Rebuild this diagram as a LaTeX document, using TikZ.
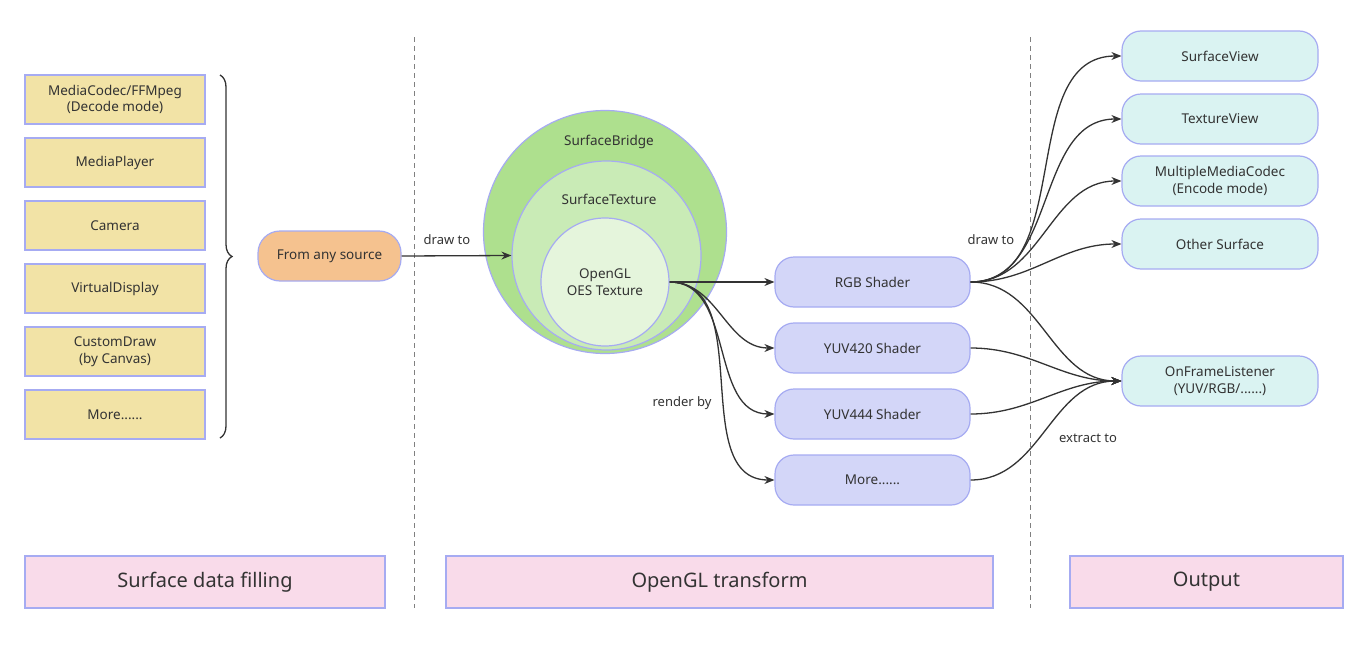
\documentclass[tikz,border=0pt]{standalone}
\usepackage{fontspec}
\setmainfont{Noto Sans}
\usetikzlibrary{arrows.meta,decorations.pathreplacing}
\definecolor{bordercol}{HTML}{A6ABF2}
\definecolor{srcfill}{HTML}{F2E3A6}
\definecolor{orangefill}{HTML}{F5C28F}
\definecolor{shadefill}{HTML}{D3D6F8}
\definecolor{outfill}{HTML}{DAF3F2}
\definecolor{headfill}{HTML}{F9DBEA}
\definecolor{greenA}{HTML}{AEE08E}
\definecolor{greenB}{HTML}{C9EBB6}
\definecolor{greenC}{HTML}{E5F5DC}
\definecolor{inkcol}{HTML}{333333}
\begin{document}
\begin{tikzpicture}[x=1pt,y=-1pt,
    every node/.style={text=inkcol,font=\fontsize{13.5}{16.5}\selectfont},
    srcbox/.style={draw=bordercol,fill=srcfill,line width=1.2pt,minimum width=180pt,minimum height=49pt,align=center},
    pillbox/.style={draw=bordercol,line width=1.2pt,rounded corners=19pt,minimum height=50pt,align=center},
    headbox/.style={draw=bordercol,fill=headfill,line width=1.2pt,minimum height=52pt,font=\fontsize{20}{24}\selectfont},
    ring/.style={draw=bordercol,line width=1.2pt,circle,inner sep=0pt},
    flow/.style={draw=inkcol,line width=1.3pt,-{Stealth[length=10pt,width=8pt]}},
    lbl/.style={font=\fontsize{13}{16}\selectfont},
    sep/.style={draw=gray,dash pattern=on 5pt off 4pt,line width=0.9pt}]
\useasboundingbox (0,0) rectangle (1368,645);
\fill[white] (0,0) rectangle (1368,645);
% section separators
\draw[sep] (414,37) -- (414,608);
\draw[sep] (1030,37) -- (1030,608);
% sources
\node[srcbox] (codec) at (115,99.5) {MediaCodec/FFMpeg\\(Decode mode)};
\node[srcbox] (player) at (115,162.5) {MediaPlayer};
\node[srcbox] (camera) at (115,225.5) {Camera};
\node[srcbox] (vdisp) at (115,288.5) {VirtualDisplay};
\node[srcbox] (custom) at (115,351.5) {CustomDraw\\(by Canvas)};
\node[srcbox] (moresrc) at (115,414.5) {More......};
\draw[inkcol,line width=1.3pt,decorate,decoration={brace,amplitude=12pt}] (220,75) -- (220,438);
\node[pillbox,fill=orangefill,minimum width=143pt,rounded corners=22pt] (anysrc) at (329.5,256) {From any source};
% surfaces
\node[ring,fill=greenA,minimum size=243pt] (bridge) at (605,232) {};
\node[ring,fill=greenB,minimum size=189pt] (stex) at (606.5,255.5) {};
\node[ring,fill=greenC,minimum size=128pt,align=center] (oes) at (605,282) {OpenGL\\OES Texture};
\node (bridgelbl) at (609,142) {SurfaceBridge};
\node (stexlbl) at (609,199) {SurfaceTexture};
\draw[flow] (anysrc.east) -- (stex.west);
\node[lbl] (drawA) at (447,240) {draw to};
% shaders
\node[pillbox,fill=shadefill,minimum width=195pt] (rgb) at (872.5,282) {RGB Shader};
\node[pillbox,fill=shadefill,minimum width=195pt] (yuvA) at (872.5,348) {YUV420 Shader};
\node[pillbox,fill=shadefill,minimum width=195pt] (yuvB) at (872.5,414) {YUV444 Shader};
\node[pillbox,fill=shadefill,minimum width=195pt] (moresh) at (872.5,480) {More......};
\draw[flow] (oes.east) -- (rgb.west);
\draw[flow] (oes.east) to[out=0,in=180] (yuvA.west);
\draw[flow] (oes.east) to[out=0,in=180] (yuvB.west);
\draw[flow] (oes.east) to[out=0,in=180] (moresh.west);
\node[lbl] (renderlbl) at (682,403) {render by};
% outputs
\node[pillbox,fill=outfill,minimum width=196pt] (sview) at (1220,56) {SurfaceView};
\node[pillbox,fill=outfill,minimum width=196pt] (tview) at (1220,119) {TextureView};
\node[pillbox,fill=outfill,minimum width=196pt] (mcodec) at (1220,181) {MultipleMediaCodec\\(Encode mode)};
\node[pillbox,fill=outfill,minimum width=196pt] (other) at (1220,244) {Other Surface};
\node[pillbox,fill=outfill,minimum width=196pt] (frame) at (1220,381) {OnFrameListener\\(YUV/RGB/......)};
\draw[flow] (rgb.east) to[out=0,in=180] (sview.west);
\draw[flow] (rgb.east) to[out=0,in=180] (tview.west);
\draw[flow] (rgb.east) to[out=0,in=180] (mcodec.west);
\draw[flow] (rgb.east) to[out=0,in=180] (other.west);
\draw[flow] (rgb.east) to[out=0,in=180] (frame.west);
\draw[flow] (yuvA.east) to[out=0,in=180] (frame.west);
\draw[flow] (yuvB.east) to[out=0,in=180] (frame.west);
\draw[flow] (moresh.east) to[out=0,in=180] (frame.west);
\node[lbl] (drawB) at (991,240) {draw to};
\node[lbl] (extractlbl) at (1088,438) {extract to};
% section headers
\node[headbox,minimum width=360pt] (headA) at (205,582) {Surface data filling};
\node[headbox,minimum width=547pt] (headB) at (719.5,582) {OpenGL transform};
\node[headbox,minimum width=273pt] (headC) at (1206.5,582) {Output};
\end{tikzpicture}
\end{document}
